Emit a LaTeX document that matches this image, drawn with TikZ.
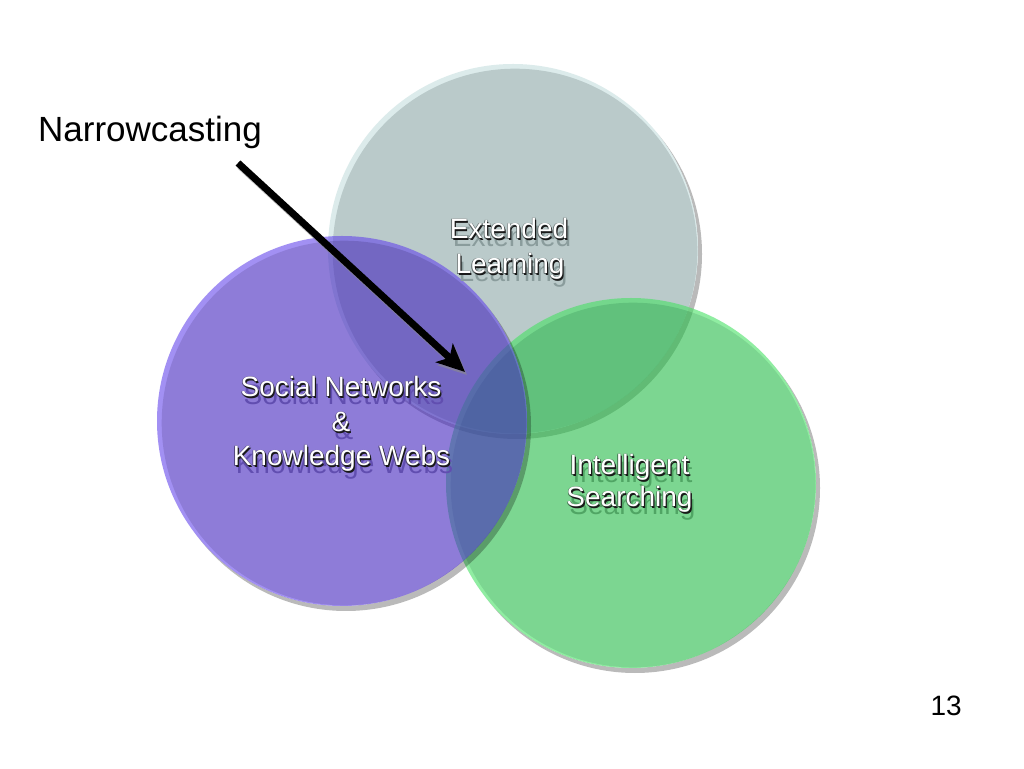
\documentclass[tikz,border=0pt]{standalone}
\usepackage{fontspec}
\setmainfont{Liberation Sans}
\usetikzlibrary{arrows.meta}
\definecolor{greyc}{RGB}{140,168,168}
\definecolor{greyl}{RGB}{197,222,222}
\definecolor{purpc}{RGB}{68,38,190}
\definecolor{purpl}{RGB}{100,70,235}
\definecolor{greenc}{RGB}{38,188,72}
\definecolor{greenl}{RGB}{70,225,100}
% text shadow colours (pre-mixed with circle colour)
\definecolor{greysh}{RGB}{138,156,156}
\definecolor{purpsh}{RGB}{97,78,176}
\definecolor{greensh}{RGB}{80,165,100}
% thin outline colours
\definecolor{greyol}{RGB}{100,110,110}
\definecolor{purpol}{RGB}{78,68,120}
\definecolor{greenol}{RGB}{68,116,80}
\definecolor{edgecol}{RGB}{25,25,25}
\tikzset{
  clbl/.style={font=\fontsize{28}{34}\selectfont, inner sep=0pt, anchor=base},
  plainlbl/.style={inner sep=0pt, text=black},
  arrowline/.style={line width=7pt, -{Stealth[length=28pt,width=25pt,inset=7pt]}},
}
\newcommand\venncircle[5]{%
  \coordinate (#1) at (#2,#3);
  \begin{scope}[even odd rule]
    \clip (0,0) rectangle (1024,768) (#2,#3) circle (185);
    \fill[black, opacity=0.27] (#2+4,#3-5) circle (185);
  \end{scope}
  \begin{scope}[transparency group, opacity=0.6]
    \fill[#5] (#2,#3) circle (185);
    \fill[#4] (#2+2,#3-2) circle (182.3);
  \end{scope}
}
% one text, drawn with its shadow, outline and white face, inside one node
\newcommand\layer[4]{\makebox[0pt][l]{\hspace{#1}\raisebox{#2}{\textcolor{#3}{#4}}}}
\newcommand\fxtext[3]{%
  \layer{3pt}{-8pt}{#2}{#1}%
  \layer{-0.6pt}{0.6pt}{#3}{#1}%
  \layer{0.6pt}{0.6pt}{#3}{#1}%
  \layer{-0.6pt}{-0.6pt}{#3}{#1}%
  \layer{1.3pt}{-1.3pt}{edgecol}{#1}%
  \textcolor{white}{#1}}
\newcommand\clabel[5]{%
  \node[clbl] (#1) at (#2,#3) {\fxtext{#4}{#5sh}{#5ol}};
}
\begin{document}
\begin{tikzpicture}[x=1pt,y=1pt]
\useasboundingbox (0,0) rectangle (1024,768);
\fill[white] (0,0) rectangle (1024,768);
% circles: grey, green, purple (purple on top)
\venncircle{ext}{513}{519}{greyc}{greyl}
\venncircle{intel}{631}{285}{greenc}{greenl}
\venncircle{soc}{342}{347}{purpc}{purpl}
% labels
\clabel{extA}{509}{529}{Extended}{grey}
\clabel{extB}{510}{494}{Learning}{grey}
\clabel{socA}{341}{371}{Social Networks}{purp}
\clabel{socB}{341}{336}{\&}{purp}
\clabel{socC}{341.5}{302}{Knowledge Webs}{purp}
\clabel{intA}{629.5}{293}{Intelligent}{green}
\clabel{intB}{629.5}{261}{Searching}{green}
% title and page number
\node[plainlbl, anchor=base west, font=\fontsize{35}{40}\selectfont] (narrow) at (38,626) {Narrowcasting};
\node[plainlbl, anchor=base east, font=\fontsize{28}{32}\selectfont] (pagenum) at (962,53) {13};
% arrow
\coordinate (astart) at (238,605);
\coordinate (atip) at (465,396);
\coordinate (astartS) at (240,602);
\coordinate (atipS) at (467,393);
\draw[arrowline, black!45, opacity=0.6] (astartS) -- (atipS);
\draw[arrowline, black] (astart) -- (atip);
\end{tikzpicture}
\end{document}
